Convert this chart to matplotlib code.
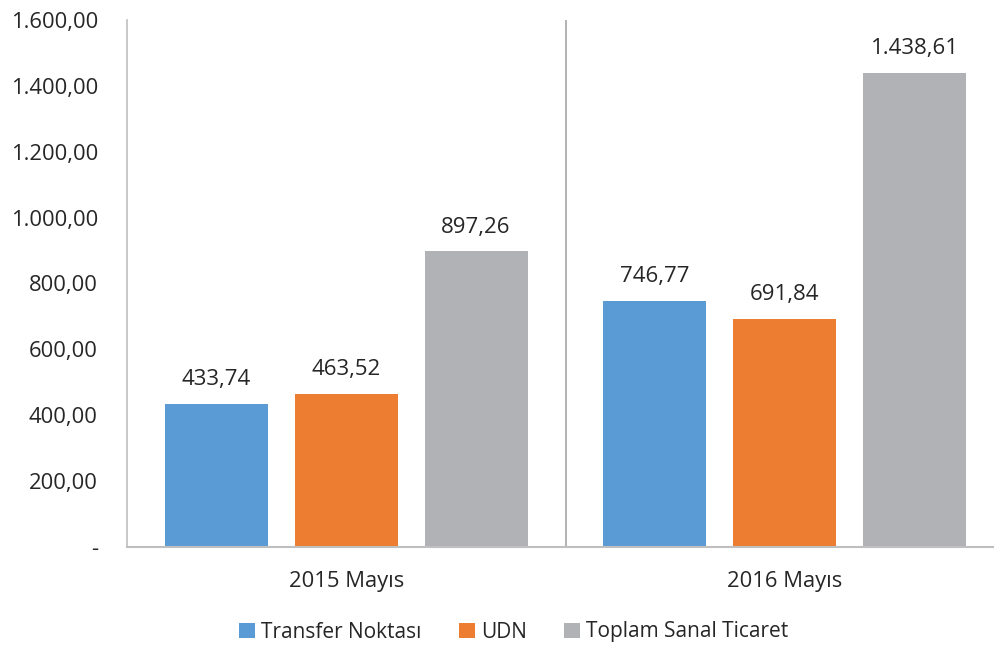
import matplotlib
matplotlib.use("Agg")
import matplotlib.pyplot as plt
import numpy as np

categories = ["2015 Mayıs", "2016 Mayıs"]
series_names = ["Transfer Noktası", "UDN", "Toplam Sanal Ticaret"]
transfer = [433.74, 746.77]
udn = [463.52, 691.84]
toplam = [897.26, 1438.61]
value_labels = [["433,74", "746,77"], ["463,52", "691,84"], ["897,26", "1.438,61"]]
yticks = [0, 200, 400, 600, 800, 1000, 1200, 1400, 1600]
ytick_labels = ["-", "200,00", "400,00", "600,00", "800,00", "1.000,00", "1.200,00", "1.400,00", "1.600,00"]
colors = ["#5B9BD5", "#ED7D31", "#B1B2B6"]

plt.rcParams['font.family'] = ['Open Sans', 'DejaVu Sans']

fig = plt.figure(figsize=(9.94, 6.45), dpi=100)
W, H = 994, 645
left, right, top, bottom = 127, 1004, 20, 547
ax = fig.add_axes([left / W, 1 - bottom / H, (right - left) / W, (bottom - top) / H])

x = np.arange(len(categories))
bw = 0.235
step = 0.296
for i, vals in enumerate([transfer, udn, toplam]):
    pos = x + (i - 1) * step
    ax.bar(pos, vals, width=bw, color=colors[i], label=series_names[i], zorder=2)
    for p, v, t in zip(pos, vals, value_labels[i]):
        ax.text(p, v + 42, t, ha="center", va="bottom", fontsize=16, color="#262626")

ax.set_xlim(-0.5, 1.5)
ax.set_ylim(0, 1600)
ax.set_yticks(yticks)
ax.set_yticklabels(ytick_labels, fontsize=15.8, color="#262626")
ax.set_xticks(x)
ax.set_xticklabels(categories, fontsize=15.8, color="#262626")
ax.tick_params(axis="y", length=0, pad=21)
ax.tick_params(axis="x", length=0, pad=17)
for lbl in ax.get_yticklabels():
    lbl.set_horizontalalignment("right")

ax.axvline(0.5, color="#A6A6A6", lw=1.2, zorder=1)
for s in ["top", "right"]:
    ax.spines[s].set_visible(False)
ax.spines["left"].set_color("#BFBFBF")
ax.spines["bottom"].set_color("#BFBFBF")
ax.spines["left"].set_linewidth(1.2)
ax.spines["bottom"].set_linewidth(1.5)

leg = fig.legend(loc="center", bbox_to_anchor=(514 / W, 1 - 632 / H), ncol=3, frameon=False,
                 fontsize=15, handlelength=0.75, handleheight=0.75, handletextpad=0.3,
                 columnspacing=1.8)
for t in leg.get_texts():
    t.set_color("#262626")

fig.savefig("out.png", dpi=100)
